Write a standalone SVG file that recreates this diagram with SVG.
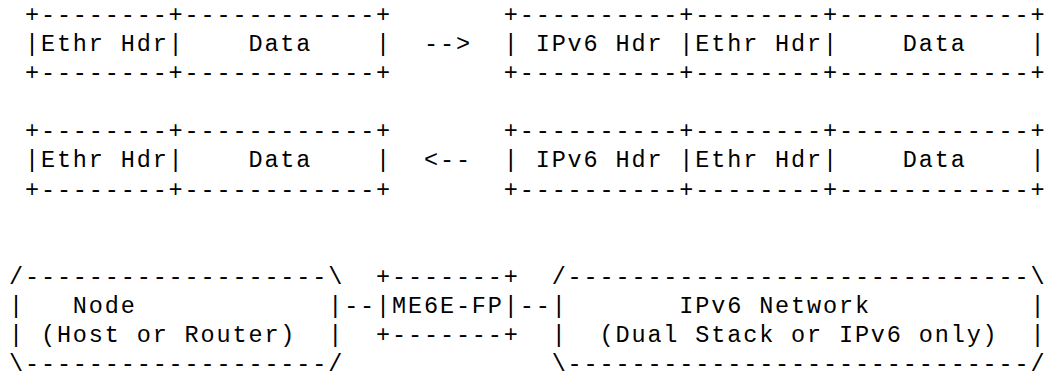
<svg xmlns="http://www.w3.org/2000/svg" width="1050" height="376" viewBox="0 0 1050 376">
<style>
text{font-family:"Liberation Mono","DejaVu Sans Mono",monospace;font-size:23.5px;letter-spacing:1.86px;fill:#000;white-space:pre}
</style>
<rect width="1050" height="376" fill="#fff"/>
<g id="pkt-out-orig">
<text x="24.96" y="21.6" xml:space="preserve">+--------+------------+</text>
<text x="24.96" y="50.75" xml:space="preserve">|Ethr Hdr|    Data    |</text>
<text x="24.96" y="79.9" xml:space="preserve">+--------+------------+</text>
</g>
<g id="pkt-out-encap">
<text x="503.76" y="21.6" xml:space="preserve">+----------+--------+------------+</text>
<text x="503.76" y="50.75" xml:space="preserve">| IPv6 Hdr |Ethr Hdr|    Data    |</text>
<text x="503.76" y="79.9" xml:space="preserve">+----------+--------+------------+</text>
</g>
<g id="pkt-in-decap">
<text x="24.96" y="138.2" xml:space="preserve">+--------+------------+</text>
<text x="24.96" y="167.35" xml:space="preserve">|Ethr Hdr|    Data    |</text>
<text x="24.96" y="196.5" xml:space="preserve">+--------+------------+</text>
</g>
<g id="pkt-in-encap">
<text x="503.76" y="138.2" xml:space="preserve">+----------+--------+------------+</text>
<text x="503.76" y="167.35" xml:space="preserve">| IPv6 Hdr |Ethr Hdr|    Data    |</text>
<text x="503.76" y="196.5" xml:space="preserve">+----------+--------+------------+</text>
</g>
<g id="node-host">
<text x="9" y="283.95" xml:space="preserve">/-------------------\</text>
<text x="9" y="313.1" xml:space="preserve">|   Node            |</text>
<text x="9" y="342.25" xml:space="preserve">| (Host or Router)  |</text>
<text x="9" y="371.4" xml:space="preserve">\-------------------/</text>
</g>
<g id="me6e-fp">
<text x="376.08" y="283.95" xml:space="preserve">+-------+</text>
<text x="376.08" y="313.1" xml:space="preserve">|ME6E-FP|</text>
<text x="376.08" y="342.25" xml:space="preserve">+-------+</text>
</g>
<g id="ipv6-network">
<text x="551.64" y="283.95" xml:space="preserve">/-----------------------------\</text>
<text x="551.64" y="313.1" xml:space="preserve">|       IPv6 Network          |</text>
<text x="551.64" y="342.25" xml:space="preserve">|  (Dual Stack or IPv6 only)  |</text>
<text x="551.64" y="371.4" xml:space="preserve">\-----------------------------/</text>
</g>
<g id="connectors">
<text x="423.96" y="50.75" xml:space="preserve">--&gt;</text>
<text x="423.96" y="167.35" xml:space="preserve">&lt;--</text>
<text x="344.16" y="313.1" xml:space="preserve">--</text>
<text x="519.72" y="313.1" xml:space="preserve">--</text>
</g>
</svg>
